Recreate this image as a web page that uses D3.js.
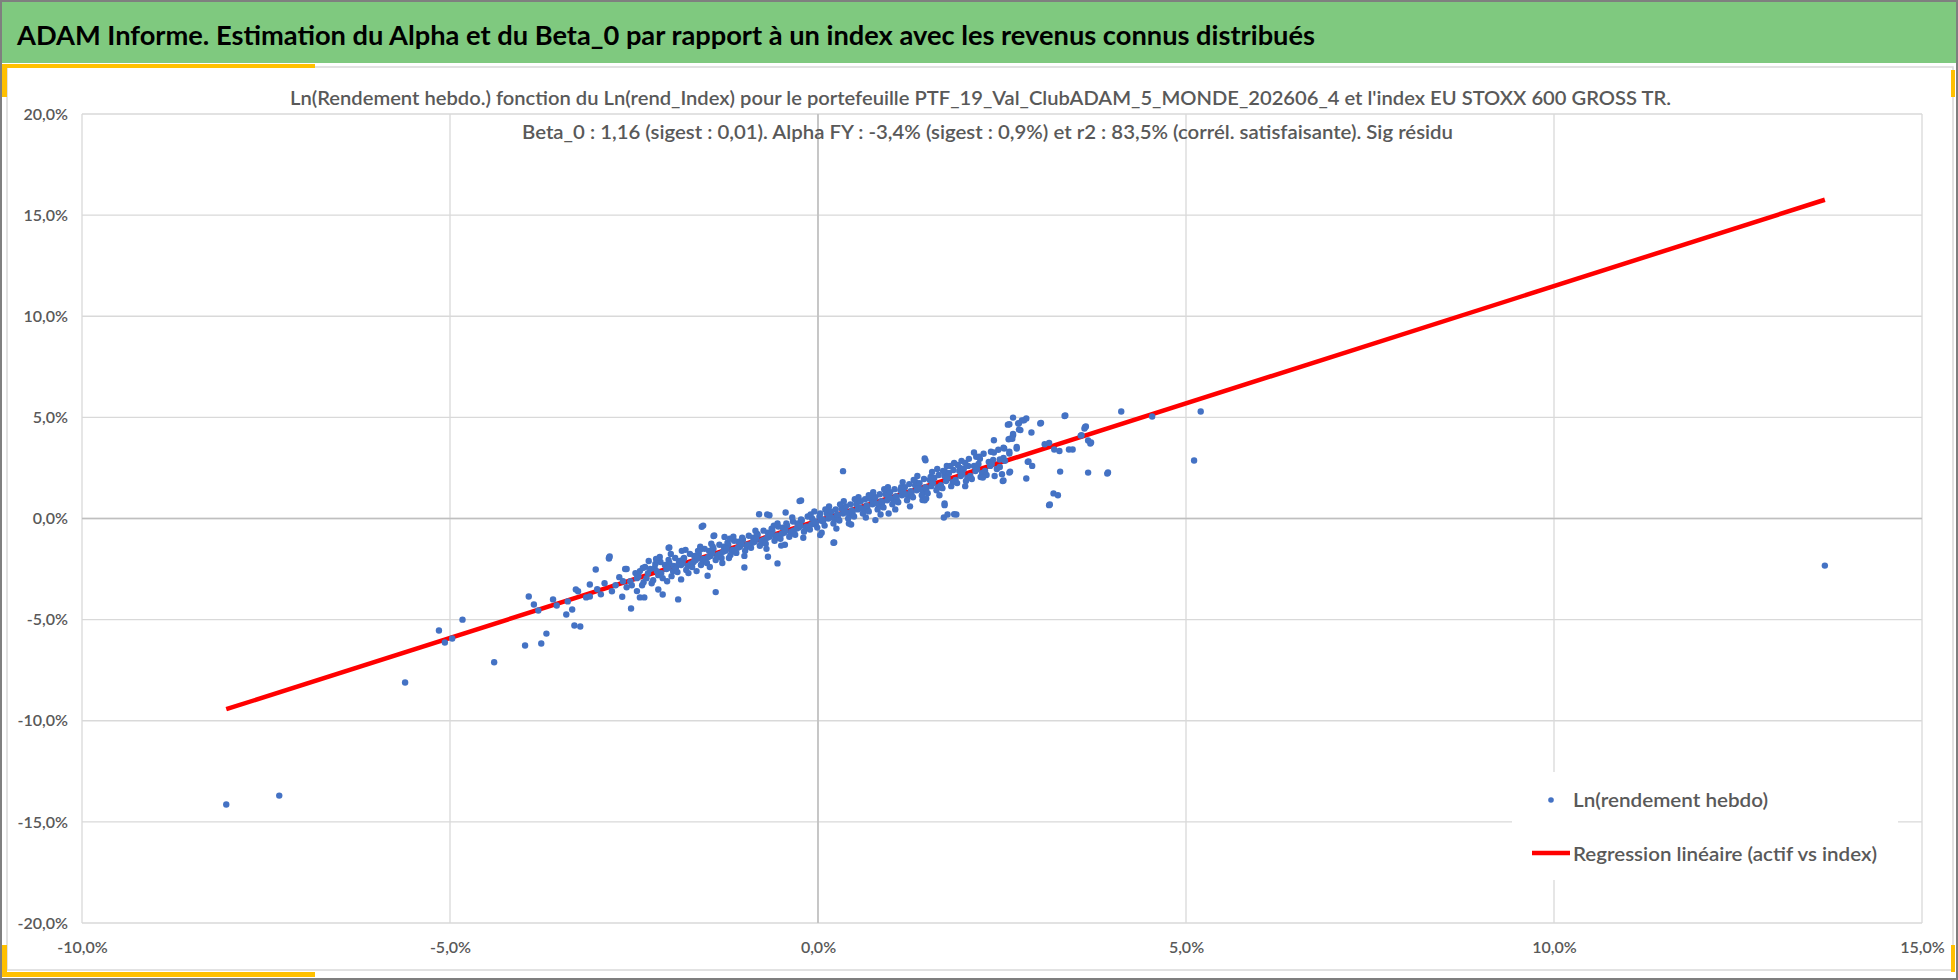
<!DOCTYPE html>
<html>
<head>
<meta charset="utf-8">
<script src="https://cdn.jsdelivr.net/npm/d3@7"></script>
<style>
  body { margin: 0; background: #fff; }
  svg { display: block; }
</style>
</head>
<body>
<svg id="chart" width="1958" height="980"></svg>
<script>
// Texts
const titre = "ADAM Informe. Estimation du Alpha et du Beta_0 par rapport à un index avec les revenus connus distribués";
const sousTitre1 = "Ln(Rendement hebdo.) fonction du Ln(rend_Index) pour le portefeuille PTF_19_Val_ClubADAM_5_MONDE_202606_4 et l'index EU STOXX 600 GROSS TR.";
const sousTitre2 = "Beta_0 : 1,16 (sigest : 0,01).  Alpha FY : -3,4% (sigest : 0,9%) et r2 : 83,5% (corrél. satisfaisante). Sig résidu";
const legendeLabels = ["Ln(rendement hebdo)", "Regression linéaire (actif vs index)"];

// Ticks (en %)
const xTicks = [-10, -5, 0, 5, 10, 15];
const yTicks = [-20, -15, -10, -5, 0, 5, 10, 15, 20];

// Nuage principal [rend index %, rend actif %]
const nuage = [
  [-2.48,-2.7],[-2.53,-3.3],[-2.46,-2.95],[-2.55,-3.1],
  [-2.42,-2.6],[-2.37,-3.15],[-2.44,-2.85],[-2.39,-3.3],
  [-2.28,-2.5],[-2.33,-2.95],[-2.26,-3.2],[-2.31,-2.7],[-2.35,-2.4],
  [-2.22,-2.45],[-2.17,-2.8],[-2.24,-3.05],[-2.19,-2.6],[-2.21,-2.25],
  [-2.08,-2.3],[-2.13,-2.7],[-2.06,-2.5],[-2.11,-2.95],[-2.14,-2.15],
  [-2.02,-2.2],[-1.97,-2.6],[-2.04,-2.45],[-1.99,-2.85],[-2.03,-2.05],[-1.96,-2.35],
  [-1.88,-2.1],[-1.93,-2.45],[-1.86,-2.3],[-1.91,-2.65],[-1.94,-1.95],[-1.89,-2.2],
  [-1.82,-1.95],[-1.77,-2.35],[-1.84,-2.2],[-1.79,-2.55],[-1.83,-2.0],[-1.76,-2.7],
  [-1.68,-1.85],[-1.73,-2.25],[-1.66,-2.05],[-1.71,-2.4],[-1.74,-1.75],[-1.69,-2.15],
  [-1.62,-1.75],[-1.57,-2.1],[-1.64,-1.95],[-1.59,-2.3],[-1.63,-1.6],[-1.56,-2.0],
  [-1.48,-1.6],[-1.53,-2.0],[-1.46,-1.85],[-1.51,-2.2],[-1.54,-1.5],[-1.49,-1.9],[-1.47,-2.4],
  [-1.42,-1.5],[-1.37,-1.9],[-1.44,-1.7],[-1.39,-2.05],[-1.43,-1.4],[-1.36,-1.8],
  [-1.28,-1.4],[-1.33,-1.75],[-1.26,-1.6],[-1.31,-1.95],[-1.34,-1.3],[-1.29,-1.65],
  [-1.22,-1.3],[-1.17,-1.65],[-1.24,-1.5],[-1.19,-1.8],[-1.23,-1.2],[-1.16,-1.55],[-1.21,-1.95],
  [-1.08,-1.15],[-1.13,-1.55],[-1.06,-1.4],[-1.11,-1.7],[-1.14,-1.1],[-1.09,-1.45],
  [-1.02,-1.05],[-0.97,-1.4],[-1.04,-1.25],[-0.99,-1.6],[-1.03,-0.95],[-0.96,-1.3],
  [-0.88,-0.95],[-0.93,-1.3],[-0.86,-1.15],[-0.91,-1.45],[-0.94,-0.85],[-0.89,-1.2],
  [-0.82,-0.8],[-0.77,-1.2],[-0.84,-1.0],[-0.79,-1.35],[-0.83,-0.75],[-0.76,-1.1],
  [-0.68,-0.7],[-0.73,-1.05],[-0.66,-0.9],[-0.71,-1.25],[-0.74,-0.6],[-0.69,-0.95],
  [-0.62,-0.6],[-0.57,-0.95],[-0.64,-0.8],[-0.59,-1.1],[-0.63,-0.5],[-0.56,-0.85],
  [-0.48,-0.45],[-0.53,-0.85],[-0.46,-0.7],[-0.51,-1.0],[-0.54,-0.4],[-0.49,-0.75],
  [-0.42,-0.35],[-0.37,-0.75],[-0.44,-0.6],[-0.39,-0.9],[-0.43,-0.25],[-0.36,-0.65],
  [-0.28,-0.25],[-0.33,-0.6],[-0.26,-0.45],[-0.31,-0.8],[-0.34,-0.15],[-0.29,-0.5],
  [-0.22,-0.1],[-0.17,-0.5],[-0.24,-0.35],[-0.19,-0.65],[-0.23,-0.05],[-0.16,-0.4],
  [-0.08,0.0],[-0.13,-0.4],[-0.06,-0.25],[-0.11,-0.55],[-0.14,0.1],[-0.09,-0.3],
  [0.02,0.1],[-0.03,-0.3],[0.04,-0.1],[-0.01,-0.45],[0.03,0.25],[-0.04,-0.15],
  [0.12,0.25],[0.07,-0.15],[0.14,0.0],[0.09,-0.35],[0.13,0.35],[0.06,-0.05],
  [0.18,0.35],[0.23,-0.05],[0.16,0.1],[0.21,-0.25],[0.24,0.45],[0.19,0.05],
  [0.32,0.5],[0.27,0.05],[0.34,0.25],[0.29,-0.1],[0.33,0.55],[0.26,0.2],
  [0.38,0.6],[0.43,0.15],[0.36,0.35],[0.41,0.0],[0.44,0.7],[0.39,0.3],
  [0.52,0.7],[0.47,0.3],[0.54,0.45],[0.49,0.1],[0.53,0.8],[0.46,0.4],
  [0.58,0.85],[0.63,0.4],[0.56,0.55],[0.61,0.25],[0.64,0.95],[0.59,0.5],
  [0.72,0.95],[0.67,0.5],[0.74,0.7],[0.69,0.35],[0.73,1.05],[0.66,0.65],
  [0.78,1.05],[0.83,0.6],[0.76,0.8],[0.81,0.45],[0.84,1.2],[0.79,0.75],
  [0.92,1.2],[0.87,0.75],[0.94,0.9],[0.89,0.55],[0.93,1.3],[0.86,0.85],
  [0.98,1.3],[1.03,0.85],[0.96,1.05],[1.01,0.7],[1.04,1.45],[0.99,1.0],
  [1.12,1.4],[1.07,0.95],[1.14,1.15],[1.09,0.8],[1.13,1.55],[1.06,1.1],
  [1.18,1.55],[1.23,1.1],[1.16,1.3],[1.21,0.9],[1.24,1.7],[1.19,1.2],
  [1.32,1.65],[1.27,1.2],[1.34,1.4],[1.29,1.05],[1.33,1.8],[1.26,1.35],
  [1.38,1.75],[1.43,1.3],[1.36,1.5],[1.41,1.15],[1.44,1.95],[1.39,1.45],
  [1.52,1.9],[1.47,1.45],[1.54,1.6],[1.49,1.25],[1.53,2.05],[1.46,1.55],
  [1.58,2.0],[1.63,1.55],[1.56,1.75],[1.61,1.4],[1.64,2.15],
  [1.72,2.1],[1.67,1.65],[1.74,1.85],[1.69,1.5],[1.73,2.3],
  [1.78,2.25],[1.83,1.8],[1.76,2.0],[1.81,1.6],[1.84,2.4],
  [1.92,2.35],[1.87,1.9],[1.94,2.1],[1.89,1.75],[1.93,2.5],
  [1.98,2.45],[2.03,2.0],[1.96,2.2],[2.01,1.85],[2.04,2.6],
  [2.12,2.6],[2.07,2.1],[2.14,2.35],[2.09,1.95],
  [2.18,2.7],[2.23,2.25],[2.16,2.45],[2.21,2.05],
  [2.32,2.8],[2.27,2.35],[2.34,2.6],[2.29,2.15],
  [2.38,2.9],[2.43,2.45],[2.36,2.7],
  [2.52,3.0],[2.47,2.55],[2.54,2.85],
  [1.62,2.45],[1.75,2.6],[1.85,2.75],[1.95,2.85],[2.05,2.95],[2.15,3.05],
  [2.25,3.2],[1.7,2.35],[2.35,3.3],[2.45,3.4],[2.0,2.75],[1.9,2.65],
  [-2.0,-1.75],[-2.3,-2.1],[-2.6,-2.5],[-2.15,-1.9],[-1.85,-1.6],
  [-3.0,-3.5],[-2.9,-3.2],[-2.75,-3.3],[-2.7,-2.9],[-2.95,-3.75],[-3.15,-3.9],
  [-2.8,-3.6],[-2.65,-3.1],[-3.4,-4.1],[-3.55,-4.3],[-3.6,-4.0],
  [-2.2,-2.0],[-2.05,-3.1],[-1.8,-1.55],[-1.65,-2.6],[-1.45,-1.25],[-1.3,-2.2],
  [-1.15,-0.9],[-1.0,-1.85],[-0.85,-0.6],[-0.7,-1.5],[-0.55,-0.25],[-0.45,-1.3],
  [-0.35,0.05],[-0.2,-0.95],[-0.05,0.35],[0.05,-0.7],[0.15,0.6],[0.25,-0.5],
  [0.35,0.85],[0.45,-0.3],[0.55,1.05],[0.65,0.05],[0.75,1.3],[0.85,0.2],
  [0.95,1.55],[1.05,0.45],[1.15,1.8],[1.25,0.6],[1.35,2.1],[1.45,0.9],
  [1.55,2.3],[1.65,1.15],[1.8,2.6],[2.0,1.6],[2.2,2.95],[2.4,2.1],
  [0.5,0.95],[0.9,1.45],[1.3,1.9],[-0.6,-0.35],[-1.2,-1.0],[-1.6,-1.4],
  [0.1,0.45],[0.3,0.7],[-0.1,0.2]
];

// Points isolés
const isoles = [
  [-8.04,-14.14],[-7.32,-13.70],[-5.61,-8.11],[-5.15,-5.54],[-5.07,-6.13],[-4.97,-5.93],
  [-4.83,-5.0],[-4.40,-7.11],[-3.98,-6.28],[-3.76,-6.18],[-3.69,-5.69],[-3.93,-3.86],
  [-3.86,-4.25],[-3.80,-4.55],[-3.42,-4.75],[-3.31,-5.29],[-3.23,-5.34],[-3.34,-4.5],
  [-3.10,-3.86],[-2.84,-1.98],[-3.26,-3.6],[-2.54,-4.45],[-2.42,-3.9],[-2.11,-3.76],
  [-1.90,-4.0],[-2.38,-2.45],[-2.6,-3.4],[-1.60,-1.53],[-0.50,-1.34],[1.88,0.2],
  [3.2,1.24],[3.29,2.32],[3.67,3.86],[4.12,5.29],[4.54,5.04],[5.20,5.29],[5.11,2.87],
  [13.68,-2.33],
  [2.65,4.99],[2.58,4.64],[2.72,4.70],[2.80,4.86],[3.02,4.70],[3.35,5.07],[2.90,4.25],
  [2.75,4.37],[3.63,4.53],[2.59,3.92],[2.65,4.12],[2.39,3.87],[2.53,3.46],[2.60,3.21],
  [2.70,3.46],[2.39,3.26],[2.12,3.26],[2.19,3.05],[2.85,2.80],[2.91,2.60],[3.08,3.67],
  [3.14,3.74],[3.21,3.41],[3.28,3.34],[3.41,3.41],[3.46,3.41],[3.58,4.12],[3.70,3.71],
  [3.67,2.27],[3.93,2.22],[3.26,1.15],[3.14,0.66],[2.83,1.98],[2.60,2.27],[2.51,1.85],
  [2.24,2.03],[1.85,1.81],[1.72,0.66],[1.71,0.05],[1.85,0.21],[1.42,0.91],[1.46,2.88],
  [0.78,-0.08],[0.96,0.25],[0.34,2.34],[0.42,-0.25],[0.21,-1.20],[0.03,-0.82],
  [-0.25,0.86],[-0.44,0.30],[-0.80,0.21],[-0.66,0.16],[-0.55,-2.22],[-0.68,-1.89],
  [-1.0,-2.42],[-1.50,-2.83],[-1.39,-3.64],[-1.58,-0.41],[-2.03,-1.45],[-2.84,-1.94],
  [-3.02,-2.52],[-2.62,-2.50],[-3.29,-3.51],[-3.10,-3.26],[-2.36,-3.90],[-2.66,-3.87],
  [-2.46,-3.59],[-2.17,-3.51],[-1.86,-3.01],[-1.42,-0.87],[-1.27,-0.91],
  [3.57,4.10],[3.62,4.45],[3.64,4.55],[3.71,3.76],[3.94,2.28],[3.15,0.69],[2.86,2.82],
  [2.61,2.32],[2.52,1.88],[2.5,2.19],[2.83,4.95],[2.77,4.85],[2.6,4.66],[2.73,4.71],
  [2.65,4.18],[2.73,4.40],[2.61,3.94],[2.64,3.94],[2.52,3.5],[2.6,3.3],[2.7,3.54],
  [2.47,2.92],[3.03,4.73],[3.36,5.09],
  [-2.83,-1.88],[-2.02,-1.43],[-1.56,-0.35],[-1.41,-0.84],[-0.69,0.2],[-0.23,0.89],
  [0.22,-1.19],[1.45,2.97],[1.76,0.2],[1.72,0.74],[1.47,0.99],[0.69,1.15]
];

// Droite de régression (extrémités)
const regression = [[-8.04, -9.43], [13.68, 15.76]];

const svg = d3.select("#chart");
const W = 1958, H = 980;
const font = "Lato, 'Open Sans', sans-serif";
const grisTexte = "#595959";
const jaune = "#FFC000";

// Scales
const x = d3.scaleLinear().domain([-10, 15]).range([82, 1922]);
const y = d3.scaleLinear().domain([-20, 20]).range([923, 114]);
const fmt = (v) => v.toFixed(1).replace(".", ",") + "%";

// Frame and header
svg.append("rect").attr("width", W).attr("height", H).attr("fill", "#fff");
svg.append("rect")
  .attr("x", 7).attr("y", 67).attr("width", 1946).attr("height", 903)
  .attr("fill", "none").attr("stroke", "#d9d9d9").attr("stroke-width", 1.5);
svg.append("rect")
  .attr("x", 2).attr("y", 2).attr("width", W - 4).attr("height", 61)
  .attr("fill", "#7FC97F");

// Yellow corner marks
[
  [2, 64, 313, 4], [2, 64, 5, 33],
  [2, 972, 313, 5], [2, 945, 5, 32],
  [1951, 70, 4, 27], [1951, 945, 4, 27]
].forEach((r) => {
  svg.append("rect")
    .attr("x", r[0]).attr("y", r[1]).attr("width", r[2]).attr("height", r[3])
    .attr("fill", jaune);
});

svg.append("rect")
  .attr("x", 1).attr("y", 1).attr("width", W - 2).attr("height", H - 2)
  .attr("fill", "none").attr("stroke", "#7f7f7f").attr("stroke-width", 2);

svg.append("text")
  .attr("x", 17).attr("y", 45)
  .attr("font-family", font).attr("font-weight", "bold").attr("font-size", 26)
  .attr("fill", "#000")
  .attr("textLength", 1298).attr("lengthAdjust", "spacingAndGlyphs")
  .text(titre);

// Gridlines
const grid = svg.append("g").attr("stroke", "#d9d9d9").attr("stroke-width", 1.3);
grid.selectAll(".gx").data(xTicks).enter().append("line")
  .attr("x1", (d) => x(d)).attr("x2", (d) => x(d))
  .attr("y1", y(20)).attr("y2", y(-20));
grid.selectAll(".gy").data(yTicks).enter().append("line")
  .attr("x1", x(-10)).attr("x2", x(15))
  .attr("y1", (d) => y(d)).attr("y2", (d) => y(d));

// Axis lines through zero
svg.append("line")
  .attr("x1", x(-10)).attr("x2", x(15)).attr("y1", y(0)).attr("y2", y(0))
  .attr("stroke", "#bfbfbf").attr("stroke-width", 1.6);
svg.append("line")
  .attr("x1", x(0)).attr("x2", x(0)).attr("y1", y(20)).attr("y2", y(-20))
  .attr("stroke", "#bfbfbf").attr("stroke-width", 1.6);

// Tick labels
const axeY = svg.append("g")
  .attr("transform", "translate(" + x(-10) + ",0)")
  .call(d3.axisLeft(y).tickValues(yTicks).tickSize(0).tickPadding(14).tickFormat(fmt));
const axeX = svg.append("g")
  .attr("transform", "translate(0," + y(-20) + ")")
  .call(d3.axisBottom(x).tickValues(xTicks).tickSize(0).tickPadding(19).tickFormat(fmt));
[axeY, axeX].forEach((g) => {
  g.select(".domain").remove();
  g.attr("font-family", font).attr("font-size", 16).attr("font-weight", 600)
    .attr("color", grisTexte);
});

// Subtitles
svg.append("text")
  .attr("x", 290).attr("y", 105)
  .attr("font-family", font).attr("font-size", 19).attr("font-weight", 600)
  .attr("fill", grisTexte)
  .attr("textLength", 1381).attr("lengthAdjust", "spacingAndGlyphs")
  .text(sousTitre1);
svg.append("text")
  .attr("x", 522).attr("y", 139)
  .attr("font-family", font).attr("font-size", 19).attr("font-weight", 600)
  .attr("fill", grisTexte)
  .attr("textLength", 931).attr("lengthAdjust", "spacingAndGlyphs")
  .text(sousTitre2);

// Regression line
const line = d3.line().x((d) => x(d[0])).y((d) => y(d[1]));
svg.append("path")
  .datum(regression)
  .attr("d", line)
  .attr("fill", "none").attr("stroke", "#FF0000").attr("stroke-width", 4.5);

// Points
const points = nuage.concat(isoles);
svg.append("g").selectAll("circle").data(points).enter().append("circle")
  .attr("cx", (d) => x(d[0]))
  .attr("cy", (d) => y(d[1]))
  .attr("r", 3.2)
  .attr("fill", "#4472C4");

// Legend
const leg = svg.append("g");
leg.append("rect")
  .attr("x", 1512).attr("y", 772).attr("width", 386).attr("height", 108)
  .attr("fill", "#fff");
leg.append("circle").attr("cx", 1551).attr("cy", 800).attr("r", 2.8).attr("fill", "#4472C4");
leg.append("line")
  .attr("x1", 1532).attr("x2", 1570).attr("y1", 853).attr("y2", 853)
  .attr("stroke", "#FF0000").attr("stroke-width", 4.5);
leg.selectAll("text").data(legendeLabels).enter().append("text")
  .attr("x", 1573)
  .attr("y", (d, i) => 807 + i * 54)
  .attr("font-family", font).attr("font-size", 20).attr("font-weight", 600)
  .attr("fill", grisTexte)
  .attr("textLength", (d, i) => [195, 304][i]).attr("lengthAdjust", "spacingAndGlyphs")
  .text((d) => d);
</script>
</body>
</html>
